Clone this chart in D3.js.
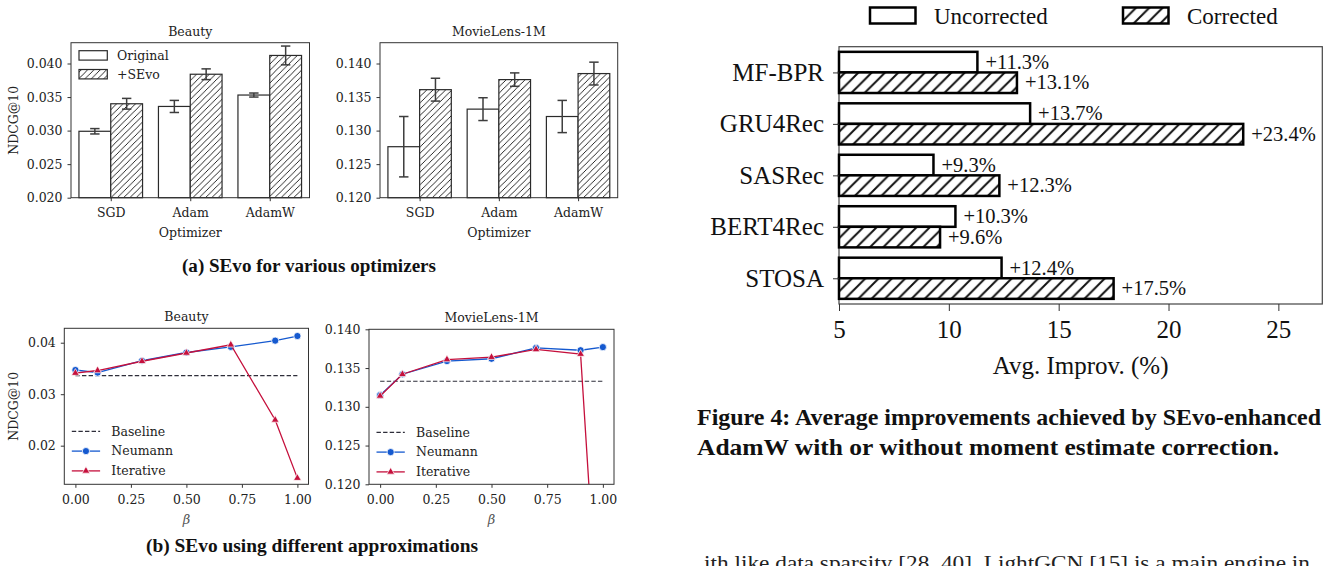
<!DOCTYPE html>
<html>
<head>
<meta charset="utf-8">
<script src="https://cdn.jsdelivr.net/npm/d3@7"></script>
<style>
  body { margin: 0; background: #fff; overflow: hidden; }
  svg { display: block; }
</style>
</head>
<body>
<div id="chart"></div>
<script>
// ---- data ----
const optimizers = ["SGD", "Adam", "AdamW"];
const beautyOriginal = [0.0299, 0.0336, 0.0353];
const beautyOriginalErr = [0.0004, 0.0009, 0.0003];
const beautySEvo = [0.0340, 0.0384, 0.0412];
const beautySEvoErr = [0.0008, 0.0008, 0.0014];
const mlOriginal = [0.1276, 0.1332, 0.1321];
const mlOriginalErr = [0.0045, 0.0017, 0.0024];
const mlSEvo = [0.1361, 0.1376, 0.1385];
const mlSEvoErr = [0.0017, 0.0010, 0.0017];

const betas = [0, 0.1, 0.3, 0.5, 0.7, 0.9, 1.0];
const beautyNeumann = [0.0347, 0.0342, 0.0365, 0.0381, 0.0392, 0.0404, 0.0413];
const beautyIterative = [0.0341, 0.0346, 0.0364, 0.0380, 0.0396, 0.0250, 0.0137];
const beautyBaseline = 0.0336;
const mlNeumann = [0.1315, 0.1342, 0.1359, 0.1362, 0.1376, 0.1373, 0.1377];
const mlIterative = [0.1314, 0.1342, 0.1361, 0.1364, 0.1374, 0.1368, 0.0915];
const mlBaseline = 0.1333;

const models = ["MF-BPR", "GRU4Rec", "SASRec", "BERT4Rec", "STOSA"];
const uncorrected = [11.3, 13.7, 9.3, 10.3, 12.4];
const corrected = [13.1, 23.4, 12.3, 9.6, 17.5];

const plotFont = "DejaVu Serif";
const paperFont = "Liberation Serif";
const blue = "#1559cf", red = "#c5103c";

const svg = d3.select("#chart").append("svg")
  .attr("width", 1323).attr("height", 566);

// hatch patterns
const defs = svg.append("defs");
function hatch(id, s, w) {
  const p = defs.append("pattern").attr("id", id)
    .attr("patternUnits", "userSpaceOnUse").attr("width", s).attr("height", s);
  p.append("rect").attr("width", s).attr("height", s).attr("fill", "#fff");
  p.append("path")
    .attr("d", `M0,${s} L${s},0 M${-s/2},${s/2} L${s/2},${-s/2} M${s/2},${s*1.5} L${s*1.5},${s/2}`)
    .attr("stroke", "#111").attr("stroke-width", w);
}
hatch("hatchSmall", 6.3, 0.9);
hatch("hatchBig", 13.3, 2);

function styleAxis(a, size) {
  a.select(".domain").remove();
  a.selectAll("text").style("font-family", plotFont).style("font-size", size + "px").attr("fill", "#222");
  a.selectAll("line").attr("stroke", "#333");
}

// ---- (a) bar panels ----
function barPanel(box, ydom, yticks, orig, origErr, sevo, sevoErr, title, yLabel, legend) {
  const x = d3.scaleLinear().domain([-0.5, 2.5]).range([box.x0, box.x1]);
  const y = d3.scaleLinear().domain(ydom).range([box.y1, box.y0]);
  const g = svg.append("g");

  const bars = [];
  optimizers.forEach((o, i) => {
    bars.push({ i: i, off: -0.4, v: orig[i], e: origErr[i], fill: "#fff" });
    bars.push({ i: i, off: 0, v: sevo[i], e: sevoErr[i], fill: "url(#hatchSmall)" });
  });
  g.selectAll("rect.bar").data(bars).join("rect").attr("class", "bar")
    .attr("x", d => x(d.i + d.off)).attr("width", d => x(d.i + d.off + 0.4) - x(d.i + d.off))
    .attr("y", d => y(d.v)).attr("height", d => y(ydom[0]) - y(d.v))
    .attr("fill", d => d.fill).attr("stroke", "#2a2a2a").attr("stroke-width", 1.2);

  const err = g.selectAll("g.err").data(bars).join("g").attr("class", "err")
    .attr("stroke", "#3d3d3d").attr("stroke-width", 1.5);
  err.append("line").attr("x1", d => x(d.i + d.off + 0.2)).attr("x2", d => x(d.i + d.off + 0.2))
    .attr("y1", d => y(d.v - d.e)).attr("y2", d => y(d.v + d.e));
  [-1, 1].forEach(s => {
    err.append("line").attr("x1", d => x(d.i + d.off + 0.2) - 4.7).attr("x2", d => x(d.i + d.off + 0.2) + 4.7)
      .attr("y1", d => y(d.v + s * d.e)).attr("y2", d => y(d.v + s * d.e));
  });

  g.append("rect").attr("x", box.x0).attr("y", box.y0)
    .attr("width", box.x1 - box.x0).attr("height", box.y1 - box.y0)
    .attr("fill", "none").attr("stroke", "#333").attr("stroke-width", 1);

  const ya = g.append("g").attr("transform", `translate(${box.x0},0)`)
    .call(d3.axisLeft(y).tickValues(yticks).tickFormat(d3.format(".3f")).tickSize(3.5).tickPadding(5));
  styleAxis(ya, 12.5);
  const xa = g.append("g").attr("transform", `translate(0,${box.y1})`)
    .call(d3.axisBottom(x).tickValues([0, 1, 2]).tickFormat(i => optimizers[i]).tickSize(3.5).tickPadding(6.5));
  styleAxis(xa, 12.5);

  g.append("text").attr("x", (box.x0 + box.x1) / 2).attr("y", box.y0 - 7)
    .attr("text-anchor", "middle").style("font-family", plotFont).style("font-size", "12.5px")
    .attr("fill", "#222").text(title);
  g.append("text").attr("x", (box.x0 + box.x1) / 2).attr("y", box.y1 + 39)
    .attr("text-anchor", "middle").style("font-family", plotFont).style("font-size", "12.5px")
    .attr("fill", "#222").text("Optimizer");
  if (yLabel) {
    g.append("text").attr("transform", `translate(18,${(box.y0 + box.y1) / 2}) rotate(-90)`)
      .attr("text-anchor", "middle").style("font-family", plotFont).style("font-size", "12.5px")
      .attr("fill", "#222").text("NDCG@10");
  }
  if (legend) {
    const items = [["Original", "#fff"], ["+SEvo", "url(#hatchSmall)"]];
    items.forEach((it, k) => {
      const ly = box.y0 + 12.7 + k * 18.8;
      g.append("rect").attr("x", box.x0 + 8).attr("y", ly - 4.7).attr("width", 28.3).attr("height", 9.4)
        .attr("fill", it[1]).attr("stroke", "#2a2a2a").attr("stroke-width", 1.2);
      g.append("text").attr("x", box.x0 + 46).attr("y", ly).attr("dy", "0.35em")
        .style("font-family", plotFont).style("font-size", "12.5px").attr("fill", "#222").text(it[0]);
    });
  }
}

barPanel({ x0: 71, x1: 309.5, y0: 42.7, y1: 197.7 }, [0.020, 0.0431],
  [0.020, 0.025, 0.030, 0.035, 0.040], beautyOriginal, beautyOriginalErr, beautySEvo, beautySEvoErr,
  "Beauty", true, true);
barPanel({ x0: 380, x1: 617.7, y0: 42.7, y1: 197.7 }, [0.120, 0.1431],
  [0.120, 0.125, 0.130, 0.135, 0.140], mlOriginal, mlOriginalErr, mlSEvo, mlSEvoErr,
  "MovieLens-1M", false, false);

// ---- (b) line panels ----
let clipId = 0;
function linePanel(box, ydom, yticks, fmt, baseline, neumann, iterative, title, yLabel) {
  const x = d3.scaleLinear().domain([-0.05, 1.05]).range([box.x0, box.x1]);
  const y = d3.scaleLinear().domain(ydom).range([box.y1, box.y0]);
  const g = svg.append("g");
  const cid = "clip" + (clipId++);
  defs.append("clipPath").attr("id", cid).append("rect")
    .attr("x", box.x0).attr("y", box.y0).attr("width", box.x1 - box.x0).attr("height", box.y1 - box.y0);
  const inner = g.append("g").attr("clip-path", `url(#${cid})`);

  inner.append("line").attr("x1", x(0)).attr("x2", x(1)).attr("y1", y(baseline)).attr("y2", y(baseline))
    .attr("stroke", "#2e2e3a").attr("stroke-width", 1.2).attr("stroke-dasharray", "4.4,2.2");

  const line = d3.line().x((d, i) => x(betas[i])).y(d => y(d));
  inner.append("path").datum(neumann).attr("d", line).attr("fill", "none")
    .attr("stroke", blue).attr("stroke-width", 1.3);
  inner.selectAll("circle.n").data(neumann).join("circle").attr("class", "n")
    .attr("cx", (d, i) => x(betas[i])).attr("cy", d => y(d)).attr("r", 3.6)
    .attr("fill", blue).attr("stroke", "#fff").attr("stroke-width", 0.8);
  inner.append("path").datum(iterative).attr("d", line).attr("fill", "none")
    .attr("stroke", red).attr("stroke-width", 1.3);
  const tri = d3.symbol(d3.symbolTriangle, 26);
  inner.selectAll("path.t").data(iterative).join("path").attr("class", "t")
    .attr("transform", (d, i) => `translate(${x(betas[i])},${y(d)})`).attr("d", tri)
    .attr("fill", red).attr("stroke", "#fff").attr("stroke-width", 0.7);

  g.append("rect").attr("x", box.x0).attr("y", box.y0)
    .attr("width", box.x1 - box.x0).attr("height", box.y1 - box.y0)
    .attr("fill", "none").attr("stroke", "#333").attr("stroke-width", 1);

  const ya = g.append("g").attr("transform", `translate(${box.x0},0)`)
    .call(d3.axisLeft(y).tickValues(yticks).tickFormat(d3.format(fmt)).tickSize(3.5).tickPadding(5));
  styleAxis(ya, 12.5);
  const xa = g.append("g").attr("transform", `translate(0,${box.y1})`)
    .call(d3.axisBottom(x).tickValues([0, 0.25, 0.5, 0.75, 1]).tickFormat(d3.format(".2f")).tickSize(3.5).tickPadding(7));
  styleAxis(xa, 12.5);

  g.append("text").attr("x", (box.x0 + box.x1) / 2).attr("y", box.y0 - 7)
    .attr("text-anchor", "middle").style("font-family", plotFont).style("font-size", "12.5px")
    .attr("fill", "#222").text(title);
  g.append("text").attr("x", x(0.5)).attr("y", box.y1 + 40)
    .attr("text-anchor", "middle").style("font-family", plotFont).style("font-size", "13px")
    .style("font-style", "italic").attr("fill", "#555").text("β");
  if (yLabel) {
    g.append("text").attr("transform", `translate(18,${(box.y0 + box.y1) / 2}) rotate(-90)`)
      .attr("text-anchor", "middle").style("font-family", plotFont).style("font-size", "12.5px")
      .attr("fill", "#222").text("NDCG@10");
  }
  // legend
  const lx = box.x0 + 7.5;
  const leg = [["Baseline"], ["Neumann"], ["Iterative"]];
  leg.forEach((it, k) => {
    const ly = box.y0 + 103 + k * 19.8;
    if (k === 0) {
      g.append("line").attr("x1", lx).attr("x2", lx + 28.3).attr("y1", ly).attr("y2", ly)
        .attr("stroke", "#2e2e3a").attr("stroke-width", 1.2).attr("stroke-dasharray", "4.4,2.2");
    } else {
      const c = k === 1 ? blue : red;
      g.append("line").attr("x1", lx).attr("x2", lx + 28.3).attr("y1", ly).attr("y2", ly)
        .attr("stroke", c).attr("stroke-width", 1.3);
      if (k === 1) {
        g.append("circle").attr("cx", lx + 14.15).attr("cy", ly).attr("r", 3.6)
          .attr("fill", c).attr("stroke", "#fff").attr("stroke-width", 0.8);
      } else {
        g.append("path").attr("transform", `translate(${lx + 14.15},${ly})`).attr("d", tri)
          .attr("fill", c).attr("stroke", "#fff").attr("stroke-width", 0.7);
      }
    }
    g.append("text").attr("x", lx + 39.5).attr("y", ly).attr("dy", "0.35em")
      .style("font-family", plotFont).style("font-size", "12.5px").attr("fill", "#222").text(it[0]);
  });
}

linePanel({ x0: 64.3, x1: 308.5, y0: 328.3, y1: 484.3 }, [0.0125, 0.0428], [0.02, 0.03, 0.04], ".2f",
  beautyBaseline, beautyNeumann, beautyIterative, "Beauty", true);
linePanel({ x0: 369, x1: 614, y0: 329.3, y1: 484.3 }, [0.120, 0.140],
  [0.120, 0.125, 0.130, 0.135, 0.140], ".3f",
  mlBaseline, mlNeumann, mlIterative, "MovieLens-1M", false);

// sub captions (centred under the whole left column)
svg.append("text").attr("x", 182).attr("y", 271.5)
  .attr("textLength", 254).attr("lengthAdjust", "spacingAndGlyphs")
  .style("font-family", paperFont).style("font-weight", "bold").style("font-size", "18.5px")
  .attr("fill", "#111").text("(a) SEvo for various optimizers");
svg.append("text").attr("x", 146).attr("y", 551.5)
  .attr("textLength", 332).attr("lengthAdjust", "spacingAndGlyphs")
  .style("font-family", paperFont).style("font-weight", "bold").style("font-size", "18.5px")
  .attr("fill", "#111").text("(b) SEvo using different approximations");

// ---- Figure 4: horizontal bars ----
const fx = d3.scaleLinear().domain([5, 27]).range([839, 1322.3]);
const fy = d3.scaleLinear().domain([-0.5, 4.5]).range([46.7, 304]);
const f4 = svg.append("g");

const hbars = [];
models.forEach((m, i) => {
  hbars.push({ i: i, off: -0.4, v: uncorrected[i], fill: "#fff" });
  hbars.push({ i: i, off: 0, v: corrected[i], fill: "url(#hatchBig)" });
});
f4.append("rect").attr("x", 839).attr("y", 46.7).attr("width", 1322.3 - 839).attr("height", 304 - 46.7)
  .attr("fill", "none").attr("stroke", "#444").attr("stroke-width", 1.2);
f4.selectAll("rect.hb").data(hbars).join("rect").attr("class", "hb")
  .attr("x", fx(5)).attr("width", d => fx(d.v) - fx(5))
  .attr("y", d => fy(d.i + d.off)).attr("height", d => fy(d.i + d.off + 0.4) - fy(d.i + d.off))
  .attr("fill", d => d.fill).attr("stroke", "#000").attr("stroke-width", 2.5);
f4.selectAll("text.val").data(hbars).join("text").attr("class", "val")
  .attr("x", d => fx(d.v) + 8).attr("y", d => fy(d.i + d.off + 0.2)).attr("dy", "0.33em")
  .style("font-family", paperFont).style("font-size", "20.5px").attr("fill", "#111")
  .text(d => "+" + d.v.toFixed(1) + "%");

const fya = f4.append("g").attr("transform", "translate(839,0)")
  .call(d3.axisLeft(fy).tickValues([0, 1, 2, 3, 4]).tickFormat(i => models[i]).tickSize(6).tickPadding(9));
fya.select(".domain").remove();
fya.selectAll("text").style("font-family", paperFont).style("font-size", "25px").attr("fill", "#111");
fya.selectAll("line").attr("stroke", "#333");
const fxa = f4.append("g").attr("transform", "translate(0,304)")
  .call(d3.axisBottom(fx).tickValues([5, 10, 15, 20, 25]).tickSize(7).tickPadding(9));
fxa.select(".domain").remove();
fxa.selectAll("text").style("font-family", paperFont).style("font-size", "25px").attr("fill", "#111");
fxa.selectAll("line").attr("stroke", "#333");
f4.append("text").attr("x", (839 + 1322.3) / 2).attr("y", 374).attr("text-anchor", "middle")
  .style("font-family", paperFont).style("font-size", "25px").attr("fill", "#111").text("Avg. Improv. (%)");

// legend on top
const f4leg = [["Uncorrected", "#fff", 870], ["Corrected", "url(#hatchBig)", 1123]];
f4leg.forEach(it => {
  f4.append("rect").attr("x", it[2]).attr("y", 7.5).attr("width", 45.5).attr("height", 16)
    .attr("fill", it[1]).attr("stroke", "#000").attr("stroke-width", 2.5);
  f4.append("text").attr("x", it[2] + 64).attr("y", 15.5).attr("dy", "0.35em")
    .style("font-family", paperFont).style("font-size", "23px").attr("fill", "#111").text(it[0]);
});

// caption and body text
const cap = svg.append("text").style("font-family", paperFont).style("font-weight", "bold")
  .style("font-size", "24px").attr("fill", "#111");
cap.append("tspan").attr("x", 697).attr("y", 425)
  .attr("textLength", 624).attr("lengthAdjust", "spacingAndGlyphs")
  .text("Figure 4: Average improvements achieved by SEvo-enhanced");
cap.append("tspan").attr("x", 697).attr("y", 455)
  .attr("textLength", 582).attr("lengthAdjust", "spacingAndGlyphs")
  .text("AdamW with or without moment estimate correction.");
svg.append("text").attr("x", 704).attr("y", 570)
  .attr("textLength", 606).attr("lengthAdjust", "spacingAndGlyphs")
  .style("font-family", paperFont).style("font-size", "22px").attr("fill", "#222")
  .text("ith like data sparsity [28, 40]. LightGCN [15] is a main engine in");
</script>
</body>
</html>
